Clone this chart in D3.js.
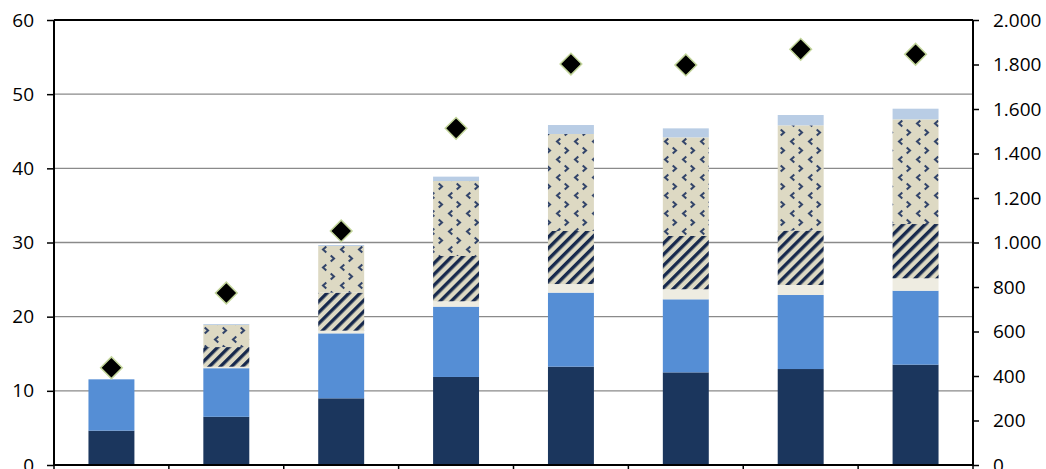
<!DOCTYPE html>
<html>
<head>
<meta charset="utf-8">
<script src="https://cdn.jsdelivr.net/npm/d3@7"></script>
<style>
  html, body { margin: 0; padding: 0; background: #ffffff; }
  svg { display: block; }
  text { font-family: "Open Sans", "Liberation Sans", sans-serif; font-size: 19px; fill: #000; }
</style>
</head>
<body>
<svg id="chart" width="1046" height="469"></svg>
<script>
// ---- data ----
const categories = ["1", "2", "3", "4", "5", "6", "7", "8"];
const seriesNames = ["s1", "s2", "s3", "s4", "s5", "s6"];
const s1 = [4.63, 6.50, 8.99, 11.87, 13.26, 12.49, 12.94, 13.53];
const s2 = [6.92, 6.55, 8.76, 9.48, 9.98, 9.85, 9.98, 9.97];
const s3 = [0.00, 0.20, 0.36, 0.72, 1.16, 1.35, 1.35, 1.67];
const s4 = [0.00, 2.65, 5.13, 6.11, 7.15, 7.19, 7.33, 7.32];
const s5 = [0.00, 2.98, 6.29, 10.11, 13.08, 13.30, 14.20, 14.12];
const s6 = [0.00, 0.12, 0.13, 0.59, 1.21, 1.21, 1.39, 1.43];
const lineValues = [437, 773, 1052, 1513, 1802, 1798, 1868, 1846];
const leftTicks = [0, 10, 20, 30, 40, 50, 60];
const rightTicks = [0, 200, 400, 600, 800, 1000, 1200, 1400, 1600, 1800, 2000];

// ---- layout ----
const svg = d3.select("#chart");
const L = 54, R = 973, T = 20, B = 465;

const x = d3.scaleBand().domain(categories).range([L, R]).paddingInner(0.6).paddingOuter(0.3);
const y = d3.scaleLinear().domain([0, 60]).range([B, T]);
const y2 = d3.scaleLinear().domain([0, 2000]).range([B, T]);

// ---- patterns ----
const defs = svg.append("defs");
const stripe = defs.append("pattern").attr("id", "stripes")
  .attr("patternUnits", "userSpaceOnUse").attr("width", 7.8).attr("height", 7.8)
  .attr("patternTransform", "rotate(45)");
stripe.append("rect").attr("width", 7.8).attr("height", 7.8).attr("fill", "#ddd9c3");
stripe.append("rect").attr("x", 0).attr("width", 3.4).attr("height", 7.8).attr("fill", "#17294d");

const chev = defs.append("pattern").attr("id", "chevrons")
  .attr("patternUnits", "userSpaceOnUse").attr("width", 18).attr("height", 18)
  .attr("x", 0).attr("y", 2);
chev.append("rect").attr("width", 18).attr("height", 18).attr("fill", "#ddd9c3");
const chevStyle = g => g.attr("fill", "none").attr("stroke", "#33456a").attr("stroke-width", 2.1).attr("stroke-linecap", "square");
// ">" glyph
chev.append("path").attr("d", "M7.5,2.2 L10,4.5 L7.5,6.8").call(chevStyle);
// "<" glyphs (half-offset row)
chev.append("path").attr("d", "M1.5,11.2 L-1,13.5 L1.5,15.8").call(chevStyle);
chev.append("path").attr("d", "M19.5,11.2 L17,13.5 L19.5,15.8").call(chevStyle);

const fills = ["#1b365d", "#558ed5", "#eeece1", "url(#stripes)", "url(#chevrons)", "#b9cde5"];

// ---- gridlines ----
svg.append("g").selectAll("line").data(leftTicks.filter(v => v > 0 && v < 60)).join("line")
  .attr("x1", L).attr("x2", R).attr("y1", d => y(d)).attr("y2", d => y(d))
  .attr("stroke", "#8a8a8a").attr("stroke-width", 1.4);

// ---- stacked bars ----
const table = categories.map((c, i) => ({ cat: c, s1: s1[i], s2: s2[i], s3: s3[i], s4: s4[i], s5: s5[i], s6: s6[i] }));
const stacked = d3.stack().keys(seriesNames)(table);
svg.append("g").selectAll("g").data(stacked).join("g")
  .attr("fill", (d, i) => fills[i])
  .selectAll("rect").data(d => d).join("rect")
  .attr("x", d => x(d.data.cat))
  .attr("width", x.bandwidth())
  .attr("y", d => y(d[1]))
  .attr("height", d => Math.max(0, y(d[0]) - y(d[1])));

// ---- axes ----
const axisStyle = g => {
  g.select(".domain").remove();
  g.selectAll(".tick line").attr("stroke", "#000").attr("stroke-width", 1.5);
};
svg.append("g").attr("transform", `translate(${L},0)`)
  .call(d3.axisLeft(y).tickValues(leftTicks).tickSize(7).tickPadding(13).tickFormat(d3.format("d")))
  .call(axisStyle)
  .call(g => g.selectAll("text").style("font-size", "19px").style("font-family", "'Open Sans', sans-serif").attr("fill", "#000"));

const loc = d3.formatLocale({ decimal: ",", thousands: ".", grouping: [3], currency: ["", ""] });
svg.append("g").attr("transform", `translate(${R},0)`)
  .call(d3.axisRight(y2).tickValues(rightTicks).tickSize(6).tickPadding(14).tickFormat(loc.format(",")))
  .call(axisStyle)
  .call(g => g.selectAll("text").style("font-size", "19px").style("font-family", "'Open Sans', sans-serif").attr("fill", "#000"));

// category boundary ticks on x axis
const step = x.step();
const bounds = d3.range(categories.length + 1).map(i => L + i * step);
svg.append("g").selectAll("line").data(bounds).join("line")
  .attr("x1", d => d).attr("x2", d => d).attr("y1", B).attr("y2", B + 8)
  .attr("stroke", "#000").attr("stroke-width", 1.5);

// frame lines
svg.append("line").attr("x1", L).attr("x2", R).attr("y1", B).attr("y2", B).attr("stroke", "#000").attr("stroke-width", 2);
svg.append("line").attr("x1", L).attr("x2", R).attr("y1", T).attr("y2", T).attr("stroke", "#000").attr("stroke-width", 2);
svg.append("line").attr("x1", L).attr("x2", L).attr("y1", T).attr("y2", B).attr("stroke", "#000").attr("stroke-width", 2);
svg.append("line").attr("x1", R).attr("x2", R).attr("y1", T).attr("y2", B).attr("stroke", "#000").attr("stroke-width", 2);

// ---- diamonds (right axis) ----
svg.append("g").selectAll("path").data(lineValues).join("path")
  .attr("d", d3.symbol(d3.symbolSquare, 235)())
  .attr("transform", (d, i) => `translate(${x(categories[i]) + x.bandwidth() / 2},${y2(d)}) rotate(45)`)
  .attr("fill", "#000").attr("stroke", "#c3d69b").attr("stroke-width", 1.5);
</script>
</body>
</html>
